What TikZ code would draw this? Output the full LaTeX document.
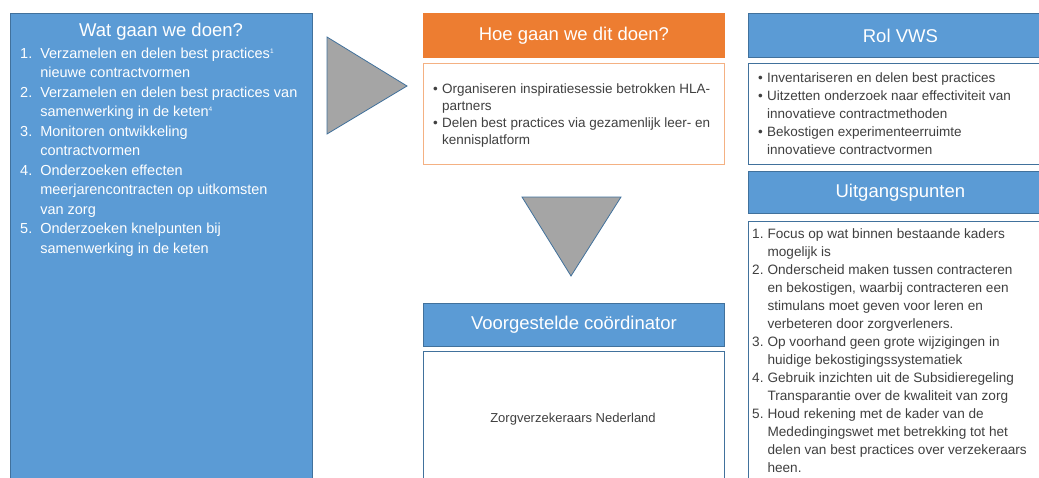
\documentclass[tikz,border=0pt]{standalone}
\usepackage{fontspec}
\setmainfont{Liberation Sans}
\usetikzlibrary{positioning}
\definecolor{officeBlue}{HTML}{5B9BD5}
\definecolor{blueEdge}{HTML}{41719C}
\definecolor{officeOrange}{HTML}{ED7D31}
\definecolor{orangeEdge}{HTML}{F4B183}
\definecolor{triGray}{HTML}{A5A5A5}
\definecolor{bodyText}{HTML}{404040}
\newcommand{\noteref}[1]{\raisebox{5pt}{\fontsize{6.5}{7}\selectfont #1}}

\begin{document}
\begin{tikzpicture}[
    x=1pt, y=-1pt,
    headBox/.style={rectangle, draw=blueEdge, fill=officeBlue, line width=0.8pt, text=white, font=\fontsize{18.5}{22}\selectfont, anchor=north west, inner sep=0pt},
    bodyBox/.style={rectangle, draw=blueEdge, fill=white, line width=0.8pt, anchor=north west, inner sep=0pt},
    listText/.style={anchor=north west, inner sep=0pt, text=bodyText},
    triStyle/.style={fill=triGray, draw=blueEdge, line width=0.8pt}
]
    \useasboundingbox (0,0) rectangle (1039,477);

    % left column
    \node[headBox, minimum width=302pt, minimum height=477pt] (wat) at (10,13) {};
    \node[text=white, font=\fontsize{18.5}{22}\selectfont, anchor=base, inner sep=0pt] (watTitle) at (161,36.5) {Wat gaan we doen?};
    \node[listText, text=white, font=\fontsize{14.5}{19.5}\selectfont] (watList) at (20,44.4) {%
        \begin{tabular}{@{}l@{\hspace{8pt}}l@{}}
        1. & Verzamelen en delen best practices\noteref{1}\\
           & nieuwe contractvormen\\
        2. & Verzamelen en delen best practices van\\
           & samenwerking in de keten\noteref{4}\\
        3. & Monitoren ontwikkeling\\
           & contractvormen\\
        4. & Onderzoeken effecten\\
           & meerjarencontracten op uitkomsten\\
           & van zorg\\
        5. & Onderzoeken knelpunten bij\\
           & samenwerking in de keten
        \end{tabular}};

    \draw[triStyle] (327,37) -- (407,86) -- (327,134) -- cycle;

    % middle column
    \node[headBox, fill=officeOrange, draw=officeOrange, minimum width=301pt, minimum height=44pt] (hoeHead) at (423,13) {Hoe gaan we dit doen?};
    \node[bodyBox, draw=orangeEdge, minimum width=301pt, minimum height=101pt] (hoeBody) at (423,63) {};
    \node[listText, font=\fontsize{13.5}{17}\selectfont] (hoeList) at (433,80.9) {%
        \begin{tabular}{@{}l@{\hspace{4.3pt}}l@{}}
        • & Organiseren inspiratiesessie betrokken HLA-\\
          & partners\\
        • & Delen best practices via gezamenlijk leer- en\\
          & kennisplatform
        \end{tabular}};

    \draw[triStyle] (522,197) -- (621,197) -- (571,276) -- cycle;

    \node[headBox, minimum width=301pt, minimum height=43pt] (coordHead) at (423,303) {Voorgestelde coördinator};
    \node[bodyBox, minimum width=301pt, minimum height=140pt] (coordBody) at (423,351) {};
    \node[text=bodyText, font=\fontsize{13}{16}\selectfont, inner sep=0pt] (coordText) at (573,419) {Zorgverzekeraars Nederland};

    % right column
    \node[headBox, minimum width=304pt, minimum height=44pt] (rolHead) at (748,13) {Rol VWS};
    \node[bodyBox, minimum width=304pt, minimum height=101pt] (rolBody) at (748,63) {};
    \node[listText, font=\fontsize{13.5}{18}\selectfont] (rolList) at (758,69.2) {%
        \begin{tabular}{@{}l@{\hspace{4.3pt}}l@{}}
        • & Inventariseren en delen best practices\\
        • & Uitzetten onderzoek naar effectiviteit van\\
          & innovatieve contractmethoden\\
        • & Bekostigen experimenteerruimte\\
          & innovatieve contractvormen
        \end{tabular}};

    \node[headBox, minimum width=304pt, minimum height=42pt] (uitHead) at (748,171) {Uitgangspunten};
    \node[bodyBox, minimum width=304pt, minimum height=280pt] (uitBody) at (748,221) {};
    \node[listText, font=\fontsize{13.6}{18}\selectfont] (uitList) at (752,225.4) {%
        \begin{tabular}{@{}l@{\hspace{4pt}}l@{}}
        1. & Focus op wat binnen bestaande kaders\\
           & mogelijk is\\
        2. & Onderscheid maken tussen contracteren\\
           & en bekostigen, waarbij contracteren een\\
           & stimulans moet geven voor leren en\\
           & verbeteren door zorgverleners.\\
        3. & Op voorhand geen grote wijzigingen in\\
           & huidige bekostigingssystematiek\\
        4. & Gebruik inzichten uit de Subsidieregeling\\
           & Transparantie over de kwaliteit van zorg\\
        5. & Houd rekening met de kader van de\\
           & Mededingingswet met betrekking tot het\\
           & delen van best practices over verzekeraars\\
           & heen.
        \end{tabular}};
\end{tikzpicture}
\end{document}
